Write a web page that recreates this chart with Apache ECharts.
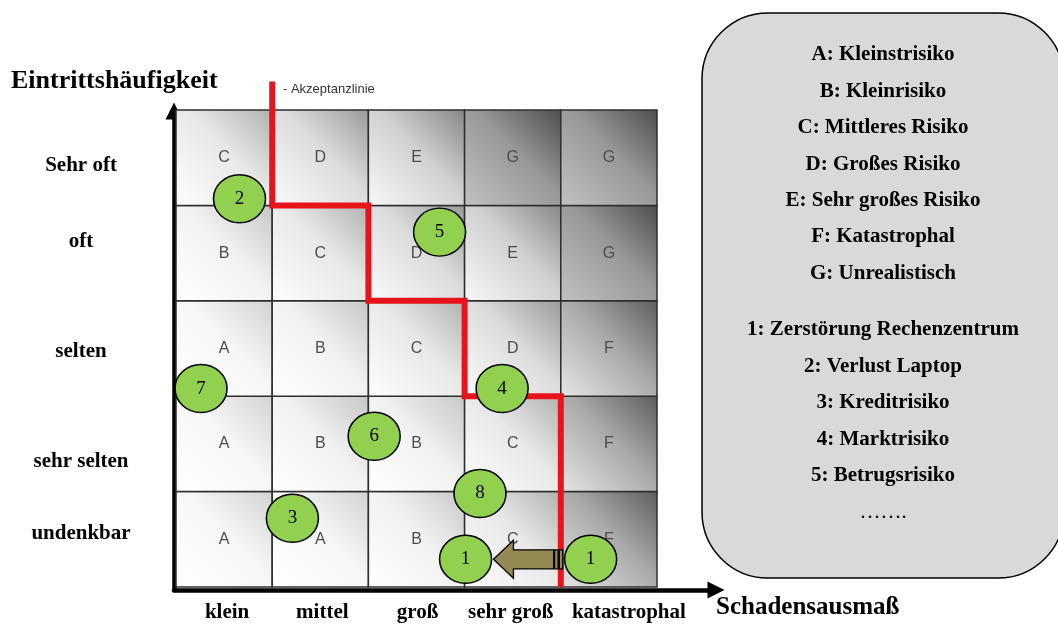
<!DOCTYPE html>
<html>
<head>
<meta charset="utf-8">
<script src="https://cdn.jsdelivr.net/npm/echarts@6/dist/echarts.min.js"></script>
<style>
  html, body { margin: 0; padding: 0; background: #fff; }
  #chart { width: 1058px; height: 627px; }
</style>
</head>
<body>
<div id="chart"></div>
<script>
// Schadensausmaß (x) and Eintrittshäufigkeit (y), bottom to top
const impactLevels = ['klein', 'mittel', 'groß', 'sehr groß', 'katastrophal'];
const frequencyLevels = ['undenkbar', 'sehr selten', 'selten', 'oft', 'Sehr oft'];

// Risk class of every cell, rows from "undenkbar" up to "Sehr oft"
const riskMatrix = [
  ['A', 'A', 'B', 'C', 'F'],
  ['A', 'B', 'B', 'C', 'F'],
  ['A', 'B', 'C', 'D', 'F'],
  ['B', 'C', 'D', 'E', 'G'],
  ['C', 'D', 'E', 'G', 'G']
];

const riskClasses = [
  'A: Kleinstrisiko',
  'B: Kleinrisiko',
  'C: Mittleres Risiko',
  'D: Großes Risiko',
  'E: Sehr großes Risiko',
  'F: Katastrophal',
  'G: Unrealistisch'
];

const riskItems = [
  '1: Zerstörung Rechenzentrum',
  '2: Verlust Laptop',
  '3: Kreditrisiko',
  '4: Marktrisiko',
  '5: Betrugsrisiko'
];
const riskItemsMore = '…….';

// Acceptance line vertices [impact, frequency]
const acceptanceLine = [[1, 5.3], [1, 4], [2, 4], [2, 3], [3, 3], [3, 2], [4, 2], [4, 0]];

// Rated risks [impact, frequency, number]
const risks = [
  [0.66, 4.07, 2],
  [2.74, 3.72, 5],
  [0.26, 2.08, 7],
  [3.39, 2.08, 4],
  [2.06, 1.58, 6],
  [3.16, 0.98, 8],
  [1.21, 0.72, 3],
  [3.01, 0.29, 1],
  [4.31, 0.29, 1]
];

// Shift of risk 1 after measures: [from impact, to impact, frequency]
const riskShift = [[4.02, 3.30, 0.29]];

// shading of each risk class: light corner, middle, dark corner
const classShade = {
  A: ['#ffffff', '#f6f6f6', '#d2d2d2'],
  B: ['#ffffff', '#f1f1f1', '#c6c6c6'],
  C: ['#fdfdfd', '#e8e8e8', '#b0b0b0'],
  D: ['#fbfbfb', '#dcdcdc', '#999999'],
  E: ['#f8f8f8', '#d0d0d0', '#868686'],
  F: ['#e6e6e6', '#a8a8a8', '#5c5c5c'],
  G: ['#c2c2c2', '#989898', '#4c4c4c']
};

const serif = '"Liberation Serif", "Times New Roman", serif';
const sans = '"Liberation Sans", Arial, sans-serif';

// axis labels sit a little off the cell centres: vertical nudge (px) for rows,
// horizontal nudge (px) for columns
const rowLabelNudge = { 'Sehr oft': 8, 'oft': -12, 'selten': 3, 'sehr selten': 18, 'undenkbar': -6 };
const colLabelNudge = { 'klein': 3, 'mittel': 2, 'groß': 1, 'sehr groß': -2, 'katastrophal': 20 };

const labelFont = { fontFamily: serif, fontWeight: 'bold', fontSize: 21, color: '#000' };
const rowRich = {}, colRich = {};
frequencyLevels.forEach((name, i) => {
  const d = rowLabelNudge[name] || 0;
  rowRich['r' + i] = Object.assign({ padding: d >= 0 ? [2 * d, 0, 0, 0] : [0, 0, -2 * d, 0] }, labelFont);
});
impactLevels.forEach((name, i) => {
  const d = colLabelNudge[name] || 0;
  colRich['c' + i] = Object.assign({ padding: d >= 0 ? [0, 0, 0, 2 * d] : [0, -2 * d, 0, 0] }, labelFont);
});

const cells = [];
riskMatrix.forEach((row, r) => row.forEach((_, c) => cells.push([c, r])));

function renderCell(params, api) {
  const c = api.value(0), r = api.value(1);
  const letter = riskMatrix[r][c];
  const p0 = api.coord([c, r + 1]);
  const p1 = api.coord([c + 1, r]);
  const s = classShade[letter];
  return {
    type: 'group',
    children: [
      {
        type: 'rect',
        shape: { x: p0[0], y: p0[1], width: p1[0] - p0[0], height: p1[1] - p0[1] },
        style: {
          fill: new echarts.graphic.LinearGradient(0, 1, 1, 0, [
            { offset: 0, color: s[0] },
            { offset: 0.55, color: s[1] },
            { offset: 1, color: s[2] }
          ]),
          stroke: '#2e2e2e',
          lineWidth: 1.5
        }
      },
      {
        type: 'text',
        x: (p0[0] + p1[0]) / 2,
        y: (p0[1] + p1[1]) / 2,
        style: {
          text: letter,
          fill: '#4d4d4d',
          font: '16px ' + sans,
          align: 'center',
          verticalAlign: 'middle',
          textAlign: 'center',
          textVerticalAlign: 'middle'
        }
      }
    ]
  };
}

function renderShift(params, api) {
  const tail = api.coord([api.value(0), api.value(2)]);
  const tip = api.coord([api.value(1), api.value(2)]);
  const y = tip[1];
  const headLen = 20, headHalf = 19, shaftHalf = 9.5, stripeZone = 9;
  const base = tip[0] + headLen;
  const shaftEnd = tail[0] - stripeZone;
  const style = { fill: '#938953', stroke: '#000', lineWidth: 1.3 };
  return {
    type: 'group',
    children: [
      {
        type: 'polygon',
        shape: {
          points: [
            [tip[0], y], [base, y - headHalf], [base, y - shaftHalf],
            [shaftEnd, y - shaftHalf], [shaftEnd, y + shaftHalf],
            [base, y + shaftHalf], [base, y + headHalf]
          ]
        },
        style: style
      },
      {
        type: 'rect',
        shape: { x: shaftEnd + 0.8, y: y - shaftHalf, width: 3.6, height: shaftHalf * 2 },
        style: style
      },
      {
        type: 'rect',
        shape: { x: shaftEnd + 5.6, y: y - shaftHalf, width: tail[0] - shaftEnd - 5.6, height: shaftHalf * 2 },
        style: style
      }
    ]
  };
}

const boxCenter = 883;
const boxText = [];
riskClasses.forEach((t, i) => boxText.push({
  type: 'text', x: boxCenter, y: 55 + i * 36.4, z: 10,
  style: { text: t, font: 'bold 21px ' + serif, fill: '#000', align: 'center', verticalAlign: 'middle', textAlign: 'center', textVerticalAlign: 'middle' }
}));
riskItems.concat([riskItemsMore]).forEach((t, i) => boxText.push({
  type: 'text', x: boxCenter, y: 330 + i * 36.4, z: 10,
  style: { text: t, font: (t === riskItemsMore ? '' : 'bold ') + '21px ' + serif, fill: '#000', align: 'center', verticalAlign: 'middle', textAlign: 'center', textVerticalAlign: 'middle' }
}));

const chart = echarts.init(document.getElementById('chart'), null, { renderer: 'canvas' });

chart.setOption({
  animation: false,
  backgroundColor: '#ffffff',
  title: [
    {
      text: 'Eintrittshäufigkeit', left: 11, top: 68, padding: 0,
      textStyle: { fontFamily: serif, fontWeight: 'bold', fontSize: 26, color: '#000' }
    },
    {
      text: 'Schadensausmaß', left: 716, top: 595, padding: 0,
      textStyle: { fontFamily: serif, fontWeight: 'bold', fontSize: 25, color: '#000' }
    }
  ],
  grid: [
    { left: 176, top: 110, width: 481, height: 477, containLabel: false, outerBoundsMode: 'none' },
    { left: 174, top: 111, right: 342, bottom: 37, containLabel: false, outerBoundsMode: 'none' }
  ],
  xAxis: [
    {
      type: 'category', gridIndex: 0, data: impactLevels,
      axisLine: { show: false }, axisTick: { show: false }, splitLine: { show: false },
      axisLabel: Object.assign({
        interval: 0, margin: 15, rich: colRich,
        formatter: (v, i) => '{c' + i + '|' + v + '}'
      }, labelFont)
    },
    { type: 'value', gridIndex: 0, min: 0, max: 5, show: false },
    {
      type: 'value', gridIndex: 1, min: 0, max: 1,
      axisLine: { show: true, onZero: false, symbol: ['none', 'triangle'], symbolSize: [17, 17], lineStyle: { color: '#000', width: 4.5 } },
      axisTick: { show: false }, axisLabel: { show: false }, splitLine: { show: false }
    }
  ],
  yAxis: [
    {
      type: 'category', gridIndex: 0, data: frequencyLevels,
      axisLine: { show: false }, axisTick: { show: false }, splitLine: { show: false },
      axisLabel: Object.assign({
        interval: 0, margin: 95, align: 'center', rich: rowRich,
        formatter: (v, i) => '{r' + i + '|' + v + '}'
      }, labelFont)
    },
    { type: 'value', gridIndex: 0, min: 0, max: 5, show: false },
    {
      type: 'value', gridIndex: 1, min: 0, max: 1,
      axisLine: { show: true, onZero: false, symbol: ['none', 'triangle'], symbolSize: [17, 17], lineStyle: { color: '#000', width: 4.5 } },
      axisTick: { show: false }, axisLabel: { show: false }, splitLine: { show: false }
    }
  ],
  series: [
    {
      name: 'Risikoklassen', type: 'custom', xAxisIndex: 1, yAxisIndex: 1, z: 1,
      renderItem: renderCell, data: cells, silent: true
    },
    {
      name: 'Akzeptanzlinie', type: 'line', xAxisIndex: 1, yAxisIndex: 1, z: 3,
      data: acceptanceLine, symbol: 'none', clip: false,
      lineStyle: { color: '#e8141b', width: 6, join: 'miter' }
    },
    {
      name: 'Verschiebung', type: 'custom', xAxisIndex: 1, yAxisIndex: 1, z: 4,
      renderItem: renderShift, data: riskShift, clip: false
    },
    {
      name: 'Risiken', type: 'scatter', xAxisIndex: 1, yAxisIndex: 1, z: 5,
      data: risks, symbol: 'circle', symbolSize: [52, 48], clip: false,
      itemStyle: { color: '#92d050', borderColor: '#000', borderWidth: 1.5, opacity: 1 },
      label: {
        show: true, position: 'inside', formatter: p => String(p.value[2]),
        fontFamily: serif, fontSize: 19, color: '#000'
      }
    }
  ],
  graphic: [
    {
      type: 'text', x: 283, y: 89, z: 10,
      style: { text: '- Akzeptanzlinie', font: '13px ' + sans, fill: '#333', verticalAlign: 'middle', textVerticalAlign: 'middle' }
    },
    {
      type: 'rect', z: 5,
      shape: { x: 702, y: 13, width: 362, height: 565, r: 66 },
      style: { fill: '#d9d9d9', stroke: '#000', lineWidth: 1.5 }
    }
  ].concat(boxText)
});
</script>
</body>
</html>
